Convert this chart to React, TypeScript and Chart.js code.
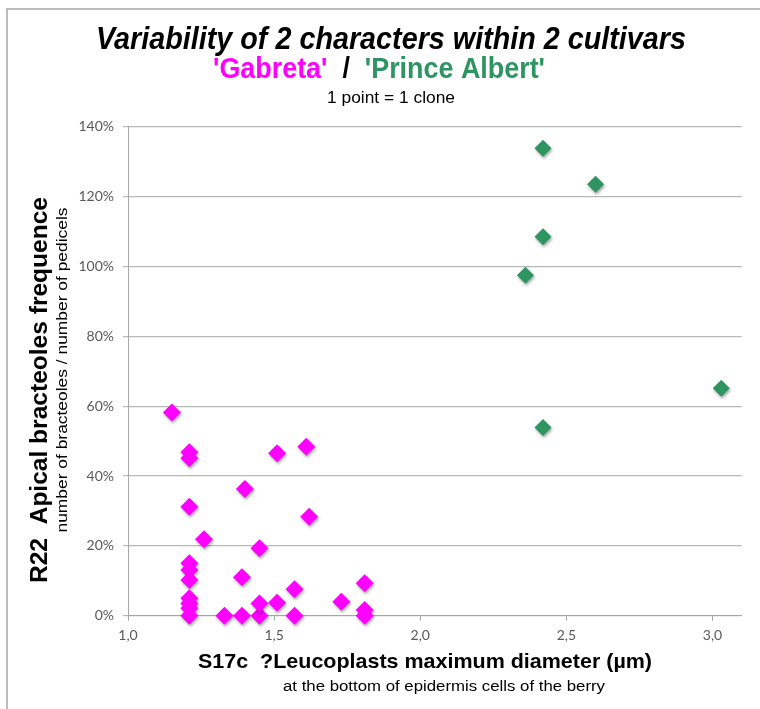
import React, { useEffect, useRef } from "react";
import { Chart, registerables } from "chart.js";

Chart.register(...registerables);

// ---- Data (x: leucoplast max diameter µm, y: apical bracteoles frequence %) ----
const gabretaX = [1.15, 1.21, 1.21, 1.51, 1.61, 1.40, 1.21, 1.62, 1.26, 1.45, 1.21, 1.21, 1.21, 1.39, 1.57, 1.81, 1.21, 1.21, 1.21, 1.21, 1.33, 1.39, 1.45, 1.45, 1.51, 1.57, 1.73, 1.81, 1.81];
const gabretaY = [58.2, 46.8, 45.1, 46.5, 48.4, 36.3, 31.2, 28.3, 21.9, 19.3, 15.0, 13.1, 10.2, 11.0, 7.6, 9.3, 5.0, 3.5, 2.1, 0, 0, 0, 0, 3.5, 3.7, 0, 4.0, 1.6, 0];
const albertX = [2.42, 2.60, 2.42, 2.36, 3.03, 2.42];
const albertY = [133.8, 123.5, 108.5, 97.5, 65.1, 53.9];

const xTickValues = [1.0, 1.5, 2.0, 2.5, 3.0];
const yTickValues = [0, 20, 40, 60, 80, 100, 120, 140];

const titleLine1 = "Variability of 2 characters within 2 cultivars";
const titleGabreta = "'Gabreta'";
const titleSep = "  /  ";
const titleAlbert = "'Prince Albert'";
const titleLine3 = "1 point = 1 clone";
const xTitle1 = "S17c  ?Leucoplasts maximum diameter (µm)";
const xTitle2 = "at the bottom of epidermis cells of the berry";
const yTitle1 = "R22  Apical bracteoles frequence";
const yTitle2 = "number of bracteoles / number of pedicels";

const MAGENTA = "#FF00FF";
const GREEN = "#2E9462";

function fitText(
  ctx: CanvasRenderingContext2D,
  text: string,
  cx: number,
  cy: number,
  targetW: number,
  font: string,
  color: string,
  rotate = false
) {
  ctx.save();
  ctx.font = font;
  const w = ctx.measureText(text).width;
  const sx = targetW / w;
  ctx.translate(cx, cy);
  if (rotate) ctx.rotate(-Math.PI / 2);
  ctx.scale(sx, 1);
  ctx.fillStyle = color;
  ctx.textAlign = "center";
  ctx.textBaseline = "middle";
  ctx.fillText(text, 0, 0);
  ctx.restore();
}

const textPlugin = {
  id: "textPlugin",
  afterDraw(chart: any) {
    const ctx: CanvasRenderingContext2D = chart.ctx;
    // chart-area frame (left and top edges visible)
    ctx.save();
    ctx.strokeStyle = "#a6a6a6";
    ctx.lineWidth = 1.5;
    ctx.beginPath();
    ctx.moveTo(7, 709);
    ctx.lineTo(7, 9);
    ctx.lineTo(760, 9);
    ctx.stroke();
    ctx.restore();

    const F = "'Liberation Sans', Arial, sans-serif";
    fitText(ctx, titleLine1, 391, 40, 590, `italic bold 31px ${F}`, "#000", false);

    // colored second line
    ctx.save();
    const f2 = `bold 29px ${F}`;
    ctx.font = f2;
    const w1 = ctx.measureText(titleGabreta).width;
    const w2 = ctx.measureText(titleSep).width;
    const w3 = ctx.measureText(titleAlbert).width;
    const total = w1 + w2 + w3;
    const target = 332;
    const sx = target / total;
    ctx.translate(379 - target / 2, 70);
    ctx.scale(sx, 1);
    ctx.textAlign = "left";
    ctx.textBaseline = "middle";
    ctx.fillStyle = MAGENTA;
    ctx.fillText(titleGabreta, 0, 0);
    ctx.fillStyle = "#000";
    ctx.fillText(titleSep, w1, 0);
    ctx.fillStyle = GREEN;
    ctx.fillText(titleAlbert, w1 + w2, 0);
    ctx.restore();

    fitText(ctx, titleLine3, 391, 99, 128, `16px ${F}`, "#000", false);

    fitText(ctx, xTitle1, 425, 662, 454, `bold 21px ${F}`, "#000", false);
    fitText(ctx, xTitle2, 444, 687, 322, `15.5px ${F}`, "#000", false);

    fitText(ctx, yTitle1, 41, 390, 386, `bold 23px ${F}`, "#000", true);
    fitText(ctx, yTitle2, 63, 370, 325, `15.5px ${F}`, "#000", true);
  },
};

const shadowPlugin = {
  id: "shadowPlugin",
  beforeDatasetsDraw(chart: any) {
    const ctx = chart.ctx;
    ctx.save();
    ctx.shadowColor = "rgba(0,0,0,0.35)";
    ctx.shadowBlur = 3;
    ctx.shadowOffsetX = 1;
    ctx.shadowOffsetY = 2;
  },
  afterDatasetsDraw(chart: any) {
    chart.ctx.restore();
  },
};

export default function App() {
  const ref = useRef<HTMLCanvasElement | null>(null);

  useEffect(() => {
    if (!ref.current) return;
    const chart = new Chart(ref.current, {
      type: "scatter",
      data: {
        datasets: [
          {
            label: "Gabreta",
            data: gabretaX.map((x, i) => ({ x, y: gabretaY[i] })),
            pointStyle: "rectRot",
            pointRadius: 9,
            pointBackgroundColor: MAGENTA,
            pointBorderColor: MAGENTA,
            pointBorderWidth: 0,
            clip: false as any,
          },
          {
            label: "Prince Albert",
            data: albertX.map((x, i) => ({ x, y: albertY[i] })),
            pointStyle: "rectRot",
            pointRadius: 8.5,
            pointBackgroundColor: GREEN,
            pointBorderColor: GREEN,
            pointBorderWidth: 0,
            clip: false as any,
          },
        ],
      },
      options: {
        animation: false,
        responsive: false,
        layout: { padding: { top: 126.7, right: 18.3, left: 0, bottom: 0 } },
        plugins: {
          legend: { display: false },
          tooltip: { enabled: false },
          title: { display: false },
        },
        scales: {
          x: {
            type: "linear",
            position: "bottom",
            min: 1,
            max: 3.1,
            afterBuildTicks: (s: any) => {
              s.ticks = xTickValues.map((v) => ({ value: v }));
            },
            afterFit: (s: any) => {
              s.height = 709 - 615.7;
            },
            ticks: {
              callback: (v: any) => Number(v).toFixed(1).replace(".", ","),
              font: { family: "Lato, 'Open Sans', sans-serif", size: 14 },
              color: "#595959",
              padding: 6,
              maxRotation: 0,
            },
            grid: {
              drawOnChartArea: false,
              drawTicks: true,
              tickLength: 5,
              color: "#a6a6a6",
            },
            border: { display: true, color: "#a6a6a6" },
          },
          y: {
            type: "linear",
            min: 0,
            max: 140,
            afterBuildTicks: (s: any) => {
              s.ticks = yTickValues.map((v) => ({ value: v }));
            },
            afterFit: (s: any) => {
              s.width = 128;
            },
            ticks: {
              callback: (v: any) => `${v}%`,
              font: { family: "Lato, 'Open Sans', sans-serif", size: 14 },
              color: "#595959",
              padding: 9,
            },
            grid: {
              drawTicks: true,
              tickLength: 5,
              color: "#b8b8b8",
              lineWidth: 1.2,
            },
            border: { display: true, color: "#a6a6a6" },
          },
        },
      },
      plugins: [shadowPlugin, textPlugin],
    });
    return () => chart.destroy();
  }, []);

  return (
    <div style={{ position: "absolute", left: 0, top: 0, width: 760, height: 709, background: "#fff" }}>
      <canvas ref={ref} width={760} height={709} style={{ display: "block", width: 760, height: 709 }} />
    </div>
  );
}
